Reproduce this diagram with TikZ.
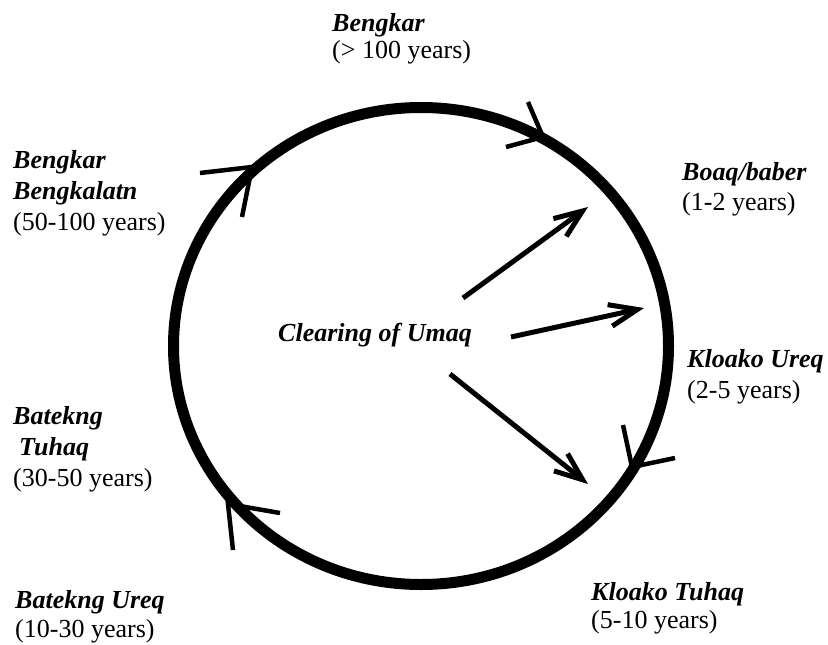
\documentclass[tikz,border=0pt]{standalone}
\usepackage{fontspec}
\setmainfont{Liberation Serif}
\usetikzlibrary{arrows.meta}
\newcommand{\stname}[1]{\textbf{\textit{#1}}}
\tikzset{
  ring/.style={line width=11pt},
  ringtip/.style={line width=4.5pt},
  spoke/.style={line width=5pt,-{Straight Barb[length=28pt,width=22pt]}},
  stage/.style={anchor=north west,inner sep=0pt,align=left,
    font=\fontsize{26}{31}\selectfont}
}
\begin{document}
\begin{tikzpicture}[x=1pt,y=-1pt]
  \useasboundingbox (0,0) rectangle (828,645);
  % fallow ring
  \draw[ring] (421,346) ellipse [x radius=247.5, y radius=238.5];
  \foreach \x/\y/\a/\b/\c/\d in {543/137/-15/-35/-37/10,252/167/-52/6/-10/50,
      632/467/-9/-42/43/-9,228/504/52/9/5/46}{
    \draw[ringtip] (\x+\a,\y+\b) -- (\x,\y) -- (\x+\c,\y+\d);}
  % stages
  \node[stage] (bengkar) at (332,13) {\stname{Bengkar}\\[-4pt](> 100 years)};
  \node[stage] (boaq) at (682,162) {\stname{Boaq/baber}\\[-1pt](1-2 years)};
  \node[stage] (kureq) at (687,349) {\stname{Kloako Ureq}\\(2-5 years)};
  \node[stage] (ktuhaq) at (591,582) {\stname{Kloako Tuhaq}\\[-3pt](5-10 years)};
  \node[stage] (bureq) at (15,590) {\stname{Batekng Ureq}\\[-2pt](10-30 years)};
  \node[stage] (btuhaq) at (13,406)
    {\stname{Batekng}\\\hspace{6pt}\stname{Tuhaq}\\(30-50 years)};
  \node[stage] (bbengk) at (13,150)
    {\stname{Bengkar}\\\stname{Bengkalatn}\\(50-100 years)};
  \node[stage,anchor=base west] (umaq) at (278,341) {\stname{Clearing of Umaq}};
  % arrows out of the clearing
  \coordinate (s1) at (463,298);
  \coordinate (t1) at (588,207);
  \coordinate (s2) at (511,337);
  \coordinate (t2) at (644,308);
  \coordinate (s3) at (450,374);
  \coordinate (t3) at (588,484);
  \draw[spoke] (s1) -- (t1);
  \draw[spoke] (s2) -- (t2);
  \draw[spoke] (s3) -- (t3);
\end{tikzpicture}
\end{document}
